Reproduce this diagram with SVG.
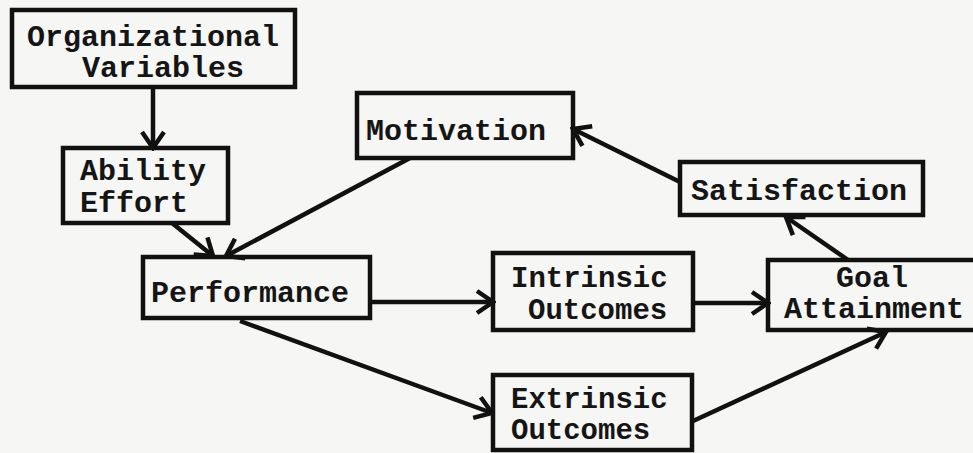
<svg xmlns="http://www.w3.org/2000/svg" width="973" height="453" viewBox="0 0 973 453">
  <defs>
    <style>
      .box { fill: none; stroke: #111; stroke-width: 4.5; stroke-linejoin: miter; }
      .edge { fill: none; stroke: #111; stroke-width: 4.5; stroke-linecap: butt; }
      .lbl { font-family: "Liberation Mono", "Courier New", monospace; font-weight: bold; font-size: 30px; fill: #151515; }
      .tight { font-size: 29px; }
    </style>
    <!-- open chevron arrowhead -->
    <marker id="chev" markerUnits="userSpaceOnUse" markerWidth="22" markerHeight="26" viewBox="0 0 22 26" refX="19" refY="13" orient="auto">
      <path d="M3,2 L19,13 L3,24" fill="none" stroke="#111" stroke-width="4.5" stroke-linejoin="miter"/>
    </marker>
  </defs>

  <rect width="973" height="453" fill="#f6f6f4"/>

  <g id="connectors">
    <line class="edge" x1="153" y1="88" x2="153" y2="148" marker-end="url(#chev)"/>
    <line class="edge" x1="172" y1="223" x2="213" y2="256" marker-end="url(#chev)"/>
    <line class="edge" x1="410" y1="158" x2="226" y2="256" marker-end="url(#chev)"/>
    <line class="edge" x1="370" y1="302" x2="493" y2="302" marker-end="url(#chev)"/>
    <line class="edge" x1="240" y1="321" x2="492" y2="413" marker-end="url(#chev)"/>
    <line class="edge" x1="693" y1="303" x2="768" y2="303" marker-end="url(#chev)"/>
    <line class="edge" x1="693" y1="421" x2="886" y2="332" marker-end="url(#chev)"/>
    <line class="edge" x1="848" y1="260" x2="786" y2="217" marker-end="url(#chev)"/>
    <line class="edge" x1="680" y1="182" x2="573" y2="129" marker-end="url(#chev)"/>
  </g>

  <g id="organizational-variables">
    <rect class="box" x="12" y="10" width="283" height="77"/>
    <text class="lbl" x="27" y="46">Organizational</text>
    <text class="lbl" x="82" y="77">Variables</text>
  </g>

  <g id="ability-effort">
    <rect class="box" x="63" y="148" width="165" height="75"/>
    <text class="lbl" x="80" y="180">Ability</text>
    <text class="lbl" x="80" y="212">Effort</text>
  </g>

  <g id="motivation">
    <rect class="box" x="357" y="93" width="216" height="65"/>
    <text class="lbl" x="366" y="140">Motivation</text>
  </g>

  <g id="performance">
    <rect class="box" x="143" y="257" width="227" height="61"/>
    <text class="lbl" x="151" y="302">Performance</text>
  </g>

  <g id="intrinsic-outcomes">
    <rect class="box" x="493" y="253" width="200" height="77"/>
    <text class="lbl tight" x="511" y="287">Intrinsic</text>
    <text class="lbl tight" x="528" y="319">Outcomes</text>
  </g>

  <g id="extrinsic-outcomes">
    <rect class="box" x="493" y="375" width="199" height="75"/>
    <text class="lbl tight" x="511" y="408">Extrinsic</text>
    <text class="lbl tight" x="511" y="439">Outcomes</text>
  </g>

  <g id="satisfaction">
    <rect class="box" x="680" y="162" width="243" height="53"/>
    <text class="lbl" x="691" y="200">Satisfaction</text>
  </g>

  <g id="goal-attainment">
    <rect class="box" x="768" y="260" width="212" height="70"/>
    <text class="lbl" x="836" y="287">Goal</text>
    <text class="lbl" x="784" y="318">Attainment</text>
  </g>
</svg>
